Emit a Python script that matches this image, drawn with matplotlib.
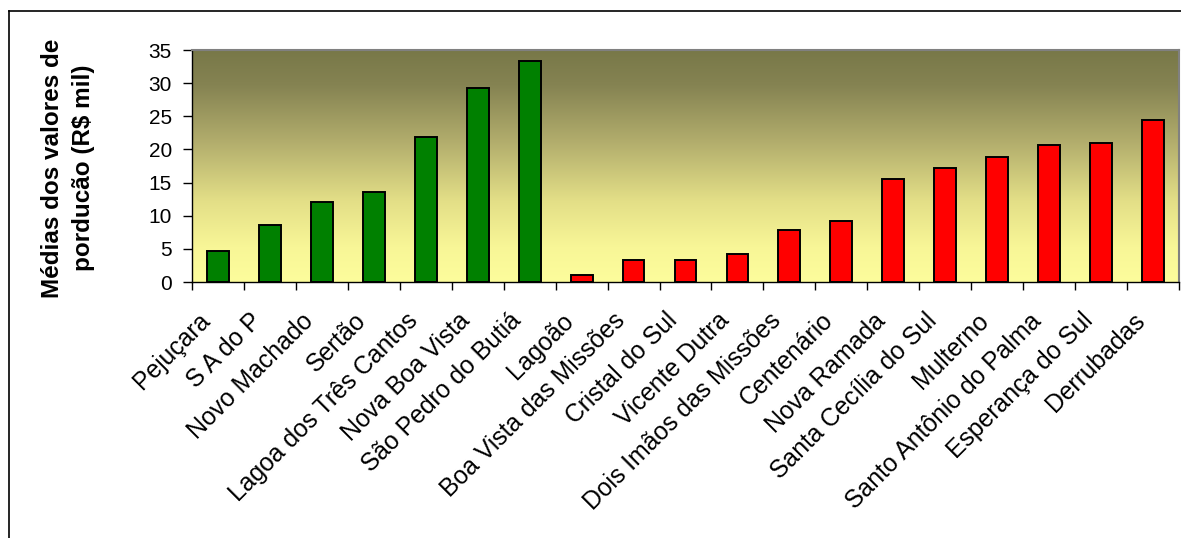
import numpy as np
import matplotlib
matplotlib.use("Agg")
import matplotlib.pyplot as plt
from matplotlib.colors import LinearSegmentedColormap
from matplotlib.lines import Line2D
from matplotlib.transforms import ScaledTranslation

plt.rcParams['font.family'] = ['Liberation Sans', 'DejaVu Sans']

municipios = ['Pejuçara', 'S A do P', 'Novo Machado', 'Sertão', 'Lagoa dos Três Cantos',
              'Nova Boa Vista', 'São Pedro do Butiá', 'Lagoão', 'Boa Vista das Missões',
              'Cristal do Sul', 'Vicente Dutra', 'Dois Imãos das Missões', 'Centenário',
              'Nova Ramada', 'Santa Cecília do Sul', 'Multerno', 'Santo Antônio do Palma',
              'Esperança do Sul', 'Derrubadas']
valores = [4.7, 8.6, 12.0, 13.6, 21.9, 29.2, 33.3, 1.1, 3.3, 3.3, 4.2, 7.8, 9.2,
           15.5, 17.2, 18.9, 20.6, 20.9, 24.4]
grupo = ['verde'] * 7 + ['vermelho'] * 12
cores_grupo = {'verde': '#008000', 'vermelho': '#ff0000'}

fig = plt.figure(figsize=(11.81, 5.38), dpi=100)
W, H = 1181, 538
ax = fig.add_axes([192 / W, 1 - 282 / H, (1179 - 192) / W, (282 - 50) / H])

# fundo em degradê (oliva -> amarelo claro)
grad = LinearSegmentedColormap.from_list('fundo', [
    (0.0, '#fdfd9c'), (0.15, '#f8f697'), (0.35, '#e3df87'),
    (0.6, '#b3ae6d'), (0.85, '#858352'), (1.0, '#787848')])
n = len(municipios)
ax.imshow(np.linspace(0, 1, 256).reshape(-1, 1), cmap=grad, aspect='auto',
          extent=[-0.5, n - 0.5, 0, 35], origin='lower', zorder=0)

x = np.arange(n)
ax.bar(x, valores, width=0.42, color=[cores_grupo[g] for g in grupo],
       edgecolor='black', linewidth=1.4, zorder=2)

ax.set_xlim(-0.5, n - 0.5)
ax.set_ylim(0, 35)
ax.set_yticks(range(0, 36, 5))
ax.tick_params(axis='y', labelsize=15, length=6.5, width=1, direction='out', pad=8)

# ticks entre as categorias, rótulos no centro
ax.set_xticks(np.arange(-0.5, n, 1.0))
ax.set_xticklabels([])
ax.tick_params(axis='x', length=6, width=1, direction='out')
ax.set_xticks(x, minor=True)
ax.set_xticklabels(municipios, minor=True, rotation=45, ha='right',
                   rotation_mode='anchor', va='baseline', fontsize=17.8)
ax.tick_params(axis='x', which='minor', length=0, pad=0)
off = ScaledTranslation(-0.07, -0.40, fig.dpi_scale_trans)
for lab in ax.get_xticklabels(minor=True):
    lab.set_transform(lab.get_transform() + off)

for s in ['top', 'right']:
    ax.spines[s].set_color('#808080')
    ax.spines[s].set_linewidth(1.5)
for s in ['left', 'bottom']:
    ax.spines[s].set_color('black')
    ax.spines[s].set_linewidth(1)

fig.text(68 / W, 1 - 168 / H, 'Médias dos valores de\nporducão (R$ mil)',
         rotation=90, ha='center', va='center', fontsize=17.5,
         fontweight='bold', linespacing=1.45)

# moldura da figura (esquerda e topo)
fig.add_artist(Line2D([9.5 / W, 9.5 / W], [0, 1 - 11 / H], color='black', linewidth=1.2))
fig.add_artist(Line2D([9.5 / W, 1], [1 - 11 / H, 1 - 11 / H], color='black', linewidth=1.2))

fig.savefig('out.png', dpi=100)
